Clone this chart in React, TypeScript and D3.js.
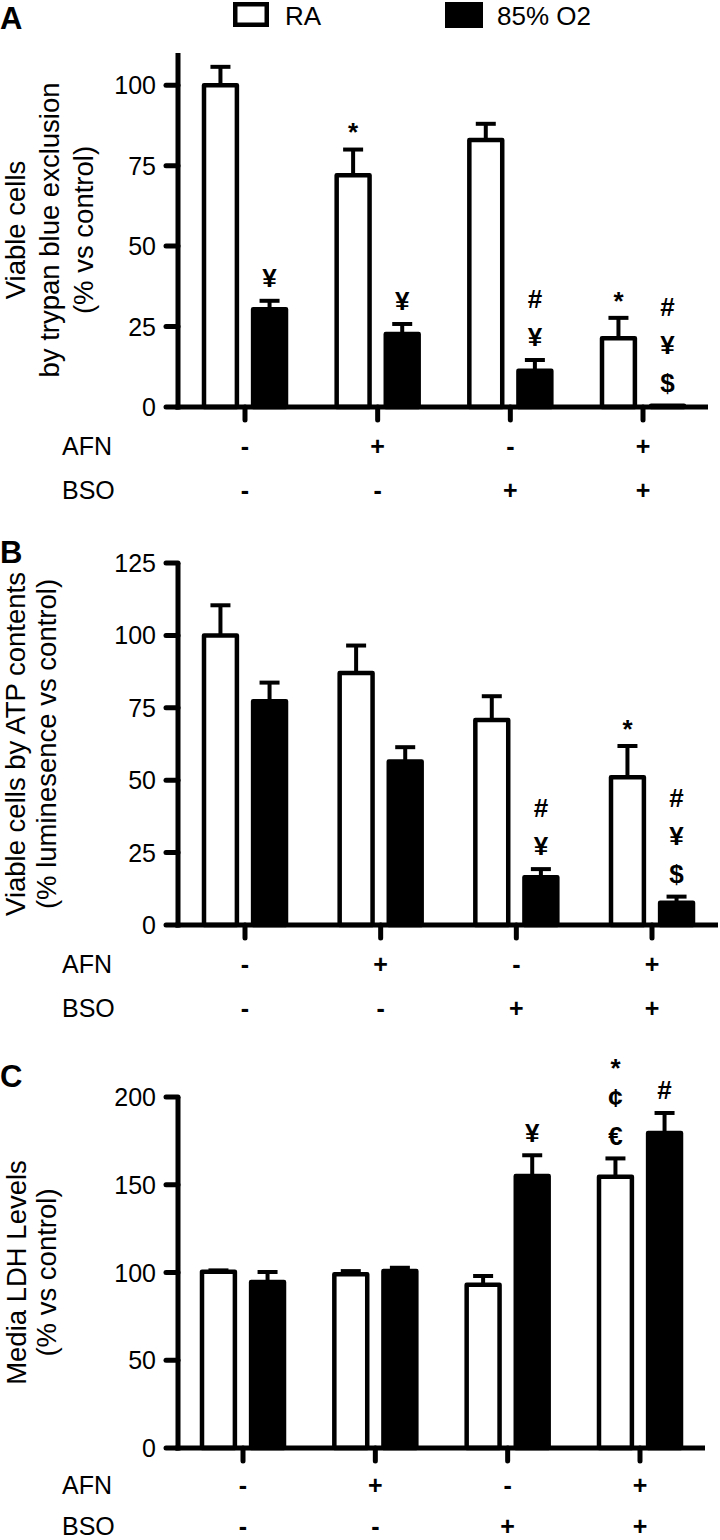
import React from "react";
import * as d3 from "d3";

// ---- data ----
const groups = ["g1", "g2", "g3", "g4"];
const afnSigns = ["-", "+", "-", "+"];
const bsoSigns = ["-", "-", "+", "+"];
const seriesNames = ["RA", "85% O2"];

// Panel A: viable cells by trypan blue exclusion
const raA = [100, 72, 83, 21.4];
const raAErr = [5.7, 8, 5, 6.3];
const o2A = [30.4, 22.7, 11.3, 0.4];
const o2AErr = [2.6, 3.1, 3.3, 0];
const raAAnn = [[], ["*"], [], ["*"]];
const o2AAnn = [["¥"], ["¥"], ["#", "¥"], ["#", "¥", "$"]];
const ticksA = [0, 25, 50, 75, 100];

// Panel B: viable cells by ATP contents
const raB = [100, 87, 70.8, 51];
const raBErr = [10.4, 9.5, 8.2, 10.8];
const o2B = [77.3, 56.5, 16.5, 7.7];
const o2BErr = [6.4, 4.9, 2.8, 2.1];
const raBAnn = [[], [], [], ["*"]];
const o2BAnn = [[], [], ["#", "¥"], ["#", "¥", "$"]];
const ticksB = [0, 25, 50, 75, 100, 125];

// Panel C: media LDH levels
const raC = [100.4, 99, 93, 154.6];
const raCErr = [0.8, 1.8, 5, 10.4];
const o2C = [94.6, 100.8, 155, 179.5];
const o2CErr = [5.7, 1.9, 11.8, 11.4];
const raCAnn = [[], [], [], ["*", "¢", "€"]];
const o2CAnn = [[], [], ["¥"], ["#"]];
const ticksC = [0, 50, 100, 150, 200];

const FONT = "'Liberation Sans', Arial, Helvetica, sans-serif";

const panels = [
  {
    letter: "A", letterY: 29,
    yMax: 110, yBottom: 407, yTop: 53, xFirst: 245, xLast: 643, xEnd: 708,
    ticks: ticksA,
    label: ["Viable cells", "by trypan blue exclusion", "(% vs control)"],
    labelX: [25, 59, 93],
    ra: raA, raErr: raAErr, o2: o2A, o2Err: o2AErr, raAnn: raAAnn, o2Ann: o2AAnn,
  },
  {
    letter: "B", letterY: 563,
    yMax: 125, yBottom: 925, yTop: 563, xFirst: 245, xLast: 652, xEnd: 718,
    ticks: ticksB,
    label: ["Viable cells by ATP contents", "(% luminesence vs control)"],
    labelX: [25, 56],
    ra: raB, raErr: raBErr, o2: o2B, o2Err: o2BErr, raAnn: raBAnn, o2Ann: o2BAnn,
  },
  {
    letter: "C", letterY: 1087,
    yMax: 200, yBottom: 1448, yTop: 1097, xFirst: 243, xLast: 640, xEnd: 705,
    ticks: ticksC,
    label: ["Media LDH Levels", "(% vs control)"],
    labelX: [26, 56],
    ra: raC, raErr: raCErr, o2: o2C, o2Err: o2CErr, raAnn: raCAnn, o2Ann: o2CAnn,
  },
];

const AXIS_X = 178;

function Panel({ p }: { p: any }) {
  const y = d3.scaleLinear().domain([0, p.yMax]).range([p.yBottom, p.yTop]);
  const x = d3.scalePoint<string>().domain(groups).range([p.xFirst, p.xLast]);
  const inner = d3.scaleBand<string>().domain(seriesNames).range([-41, 41]).paddingInner(0.33);
  const bw = inner.bandwidth();
  const annFs = 26;

  const series = [
    { name: seriesNames[0], vals: p.ra, errs: p.raErr, anns: p.raAnn, fill: "#fff" },
    { name: seriesNames[1], vals: p.o2, errs: p.o2Err, anns: p.o2Ann, fill: "#000" },
  ];

  const labelCenter = (p.yBottom + p.yTop) / 2;
  const rowA = Math.min(y(0) + 48, 1494);
  const rowB = Math.min(y(0) + 92, 1535);

  return (
    <g>
      <text x={0} y={p.letterY} fontFamily={FONT} fontWeight="bold" fontSize={31}>{p.letter}</text>
      {/* y label */}
      {p.label.map((t: string, i: number) => (
        <text key={i} transform={`translate(${p.labelX[i]},${labelCenter}) rotate(-90)`}
          textAnchor="middle" fontFamily={FONT} fontSize={27.5}>{t}</text>
      ))}
      {/* bars */}
      {series.map((s, si) =>
        groups.map((g, gi) => {
          const cx = (x(g) as number) + (inner(s.name) as number) + bw / 2;
          const v = s.vals[gi];
          const top = y(v);
          const errTop = y(v + s.errs[gi]);
          const stack: string[] = s.anns[gi];
          const items: { t: string; cy: number }[] = [];
          let cy = errTop - 23;
          for (let k = stack.length - 1; k >= 0; k--) {
            items.push({ t: stack[k], cy });
            const next = stack[k - 1];
            cy -= next === "*" ? 35 : 38;
          }
          return (
            <g key={`${si}-${gi}`}>
              {s.errs[gi] > 0 && (
                <g stroke="#000" strokeWidth={4}>
                  <line x1={cx} x2={cx} y1={top} y2={errTop} />
                  <line x1={cx - 10} x2={cx + 10} y1={errTop} y2={errTop} />
                </g>
              )}
              <rect x={cx - bw / 2} y={top} width={bw} height={Math.max(0, y(0) - top)}
                fill={s.fill} stroke="#000" strokeWidth={4.5} strokeLinejoin="round" />
              {items.map((it, k) => (
                <text key={k} x={cx} y={it.cy + (it.t === "*" ? 0.57 : 0.36) * annFs}
                  textAnchor="middle" fontFamily={FONT} fontWeight="bold" fontSize={annFs}>{it.t}</text>
              ))}
            </g>
          );
        })
      )}
      {/* y axis */}
      <line x1={AXIS_X} x2={AXIS_X} y1={p.yTop} y2={p.yBottom + 2.5} stroke="#000" strokeWidth={5} />
      {p.ticks.map((t: number) => (
        <g key={t}>
          <line x1={AXIS_X - 12} x2={AXIS_X} y1={y(t)} y2={y(t)} stroke="#000" strokeWidth={5} strokeLinecap="round" />
          <text x={AXIS_X - 22} y={y(t) + 9} textAnchor="end" fontFamily={FONT} fontSize={25}>{t}</text>
        </g>
      ))}
      {/* x axis */}
      <line x1={AXIS_X - 2.5} x2={p.xEnd} y1={y(0)} y2={y(0)} stroke="#000" strokeWidth={5} />
      {groups.map((g) => (
        <line key={g} x1={x(g)} x2={x(g)} y1={y(0)} y2={y(0) + 13} stroke="#000" strokeWidth={5} strokeLinecap="round" />
      ))}
      {/* treatment rows */}
      <text x={62} y={rowA} fontFamily={FONT} fontSize={25}>AFN</text>
      <text x={62} y={rowB} fontFamily={FONT} fontSize={25}>BSO</text>
      {groups.map((g, i) => (
        <g key={g}>
          <text x={x(g)} y={rowA} textAnchor="middle" fontFamily={FONT} fontWeight="bold" fontSize={25}>{afnSigns[i]}</text>
          <text x={x(g)} y={rowB} textAnchor="middle" fontFamily={FONT} fontWeight="bold" fontSize={25}>{bsoSigns[i]}</text>
        </g>
      ))}
    </g>
  );
}

export default function App() {
  return (
    <svg width={720} height={1540} style={{ position: "absolute", left: 0, top: 0, background: "#fff" }}>
      <rect x={0} y={0} width={720} height={1540} fill="#fff" />
      {/* legend */}
      <rect x={235.25} y={4.25} width={31.5} height={20.5} fill="#fff" stroke="#000" strokeWidth={4.5} />
      <text x={285} y={25} fontFamily={FONT} fontSize={26}>{seriesNames[0]}</text>
      <rect x={445} y={2} width={38} height={26} fill="#000" />
      <text x={497} y={25} fontFamily={FONT} fontSize={26}>{seriesNames[1]}</text>
      {panels.map((p) => <Panel key={p.letter} p={p} />)}
    </svg>
  );
}
